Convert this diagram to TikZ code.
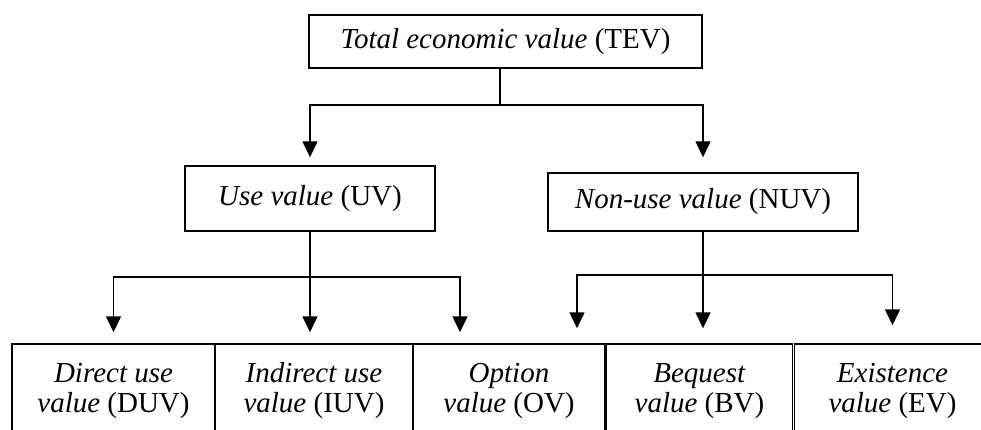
\documentclass[tikz,border=0pt]{standalone}
\usepackage{fontspec}
\setmainfont{Liberation Serif}
\usetikzlibrary{arrows.meta}

\begin{document}
\begin{tikzpicture}[x=1pt,y=-1pt,>={Triangle[width=15pt,length=16pt]},
                    line width=1.4pt,font=\fontsize{29}{30}\selectfont]
  \tikzstyle{box}=[draw,inner sep=0pt,align=center]

  \useasboundingbox (0,0) rectangle (981,430);

  \node[box,minimum width=393,minimum height=53] (TEV) at (505.5,41.5) {\textit{Total economic value} (TEV)};
  \node[box,minimum width=250,minimum height=65] (UV)  at (310,198.5)  {\textit{Use value} (UV)};
  \node[box,minimum width=310,minimum height=58] (NUV) at (703,202)    {\textit{Non-use value} (NUV)};

  \node[box,minimum width=203,minimum height=94] (DUV) at (113.5,391) {\textit{Direct use}\\\textit{value} (DUV)};
  \node[box,minimum width=198,minimum height=94] (IUV) at (314,391)   {\textit{Indirect use}\\\textit{value} (IUV)};
  \node[box,minimum width=192,minimum height=94] (OV)  at (509,391)   {\textit{Option}\\\textit{value} (OV)};
  \node[box,minimum width=186,minimum height=94] (BV)  at (699.5,391) {\textit{Bequest}\\\textit{value} (BV)};
  \node[box,minimum width=196,minimum height=94] (EV)  at (892.5,391) {\textit{Existence}\\\textit{value} (EV)};

  \coordinate (top)   at (500,105);
  \coordinate (left)  at (310,277);
  \coordinate (right) at (703,275);
  \coordinate (uo)    at (460,277);
  \coordinate (no)    at (577,275);

  % top level
  \draw (TEV.south -| top) -- (top);
  \draw[->,shorten >=8pt]  (top) -| (UV.north);
  \draw[->,shorten >=15pt] (top) -| (NUV.north);

  % use values
  \draw (UV.south) -- (left);
  \draw[->,shorten >=11pt] (left) -| (DUV.north);
  \draw[->,shorten >=11pt] (left) -- (left |- IUV.north);
  \draw[->,shorten >=11pt] (left) -| (uo |- OV.north);

  % non-use values
  \draw (NUV.south) -- (right);
  \draw[->,shorten >=15pt] (right) -| (no |- OV.north);
  \draw[->,shorten >=15pt] (right) -- (right |- BV.north);
  \draw[->,shorten >=18pt] (right) -| (EV.north);
\end{tikzpicture}
\end{document}
